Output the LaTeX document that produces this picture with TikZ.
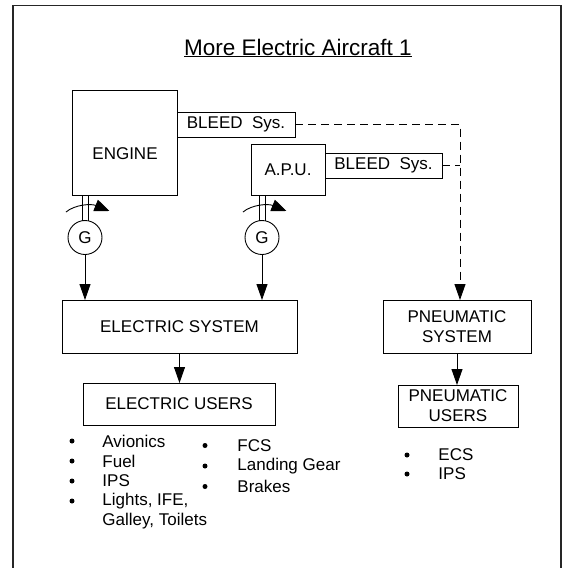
\documentclass[tikz,border=0pt]{standalone}
\usepackage{fontspec}
\setmainfont{Liberation Sans}
\usetikzlibrary{arrows.meta}

\begin{document}
\begin{tikzpicture}[x=1pt, y=-1pt, line width=0.9pt,
    box/.style={draw, line width=1pt, inner sep=0pt, outer sep=0pt, align=center,
        font=\fontsize{17}{20}\selectfont},
    lbl/.style={font=\fontsize{17}{20}\selectfont},
    gen/.style={draw, circle, minimum size=34pt, inner sep=0pt, outer sep=0pt,
        font=\fontsize{17}{20}\selectfont},
    flow/.style={-{Triangle[length=16pt, width=11pt]}},
    turn/.style={-{Triangle[length=15pt, width=12pt]}},
    bleedline/.style={dash pattern=on 8pt off 5pt},
    dot/.style={circle, fill, minimum size=5pt, inner sep=0pt},
    item/.style={anchor=west, inner sep=0pt, font=\fontsize{17}{20}\selectfont}]
    \useasboundingbox (0,0) rectangle (563,568);
    \draw[line width=1.5pt, black!85] (13,580) |- (561,5.5) -- (561,580);

    \node[anchor=base, font=\fontsize{22.5}{26}\selectfont] (title) at (298,55) {\underline{More Electric Aircraft 1}};

    % sources
    \node[box, minimum width=105pt, minimum height=105pt] (engine) at (124.5,142.5) {};
    \node[lbl] (enginetxt) at (125,154) {ENGINE};
    \node[box, minimum width=118pt, minimum height=25pt] (bleedA) at (236,124.5) {BLEED\ \ Sys.};
    \node[box, minimum width=74pt, minimum height=51pt] (apu) at (288,169.5) {A.P.U.};
    \node[box, minimum width=117pt, minimum height=25pt] (bleedB) at (383.5,165.5) {BLEED\ \ Sys.};
    \node[gen] (genA) at (85,237.5) {G};
    \node[gen] (genB) at (262,237.5) {G};

    % systems and users
    \node[box, minimum width=235pt, minimum height=53pt] (elsys) at (179.5,326.5) {ELECTRIC SYSTEM};
    \node[box, minimum width=192pt, minimum height=42pt] (elusers) at (179,404) {ELECTRIC USERS};
    \node[box, minimum width=148pt, minimum height=53pt] (pnsys) at (457,326.5) {PNEUMATIC\\SYSTEM};
    \node[box, minimum width=120pt, minimum height=42pt] (pnusers) at (458,406) {PNEUMATIC\\USERS};

    % shafts and rotation
    \foreach \g/\m in {genA/engine, genB/apu} {
        \draw (\g.100) -- (\g.100 |- \m.south);
        \draw (\g.80) -- (\g.80 |- \m.south);
        \draw[turn] ([shift={(-19,-25.5)}]\g.center) .. controls ([shift={(-10,-33)}]\g.center)
            and ([shift={(6,-34)}]\g.center) .. ([shift={(24.5,-26.5)}]\g.center);
        \draw[flow] (\g.south) -- (\g |- elsys.north);
    }
    \draw[flow] (elsys.south) -- (elsys.south |- elusers.north);
    \draw[flow] (pnsys.south) -- (pnsys.south |- pnusers.north);

    % bleed air
    \coordinate (tap) at (460,124.5);
    \draw[bleedline, flow] (bleedA.east) -- (tap) -- (tap |- pnsys.north);
    \draw[bleedline] (bleedB.east) -- (bleedB.east -| tap);

    % user lists
    \foreach \t [count=\i] in {Avionics, Fuel, IPS, {Lights, IFE,}} {
        \node[dot] (eudot\i) at (72,{421+20*\i}) {};
        \node[item] (eu\i) at (102,{421+20*\i}) {\t};
    }
    \node[item] (eu5) at (102,521) {Galley, Toilets};
    \foreach \t [count=\i] in {FCS, Landing Gear, Brakes} {
        \node[dot] (fcdot\i) at (205,{425+20.5*\i}) {};
        \node[item] (fc\i) at (237,{425+20.5*\i}) {\t};
    }
    \foreach \t [count=\i] in {ECS, IPS} {
        \node[dot] (pudot\i) at (407,{436+19*\i}) {};
        \node[item] (pu\i) at (438,{436+19*\i}) {\t};
    }
\end{tikzpicture}
\end{document}
